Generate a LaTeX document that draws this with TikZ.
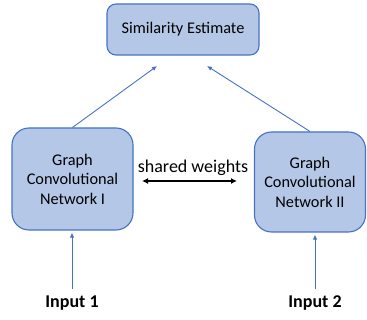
\documentclass[tikz,border=0pt]{standalone}
\usepackage{fontspec}
\setmainfont{Carlito}
\usetikzlibrary{arrows.meta}
\definecolor{boxfill}{HTML}{B4C7E7}
\definecolor{boxline}{HTML}{4472C4}
\begin{document}
\begin{tikzpicture}[x=1pt,y=-1pt,
  box/.style={draw=boxline, fill=boxfill, line width=1.1pt, rounded corners=#1, align=center, inner sep=0pt},
  blue arrow/.style={draw=boxline, line width=0.9pt, -{Latex[length=5pt,width=4.5pt]}},
  boxfont/.style={font=\fontsize{16.3}{19.5}\selectfont},
  bigfont/.style={font=\fontsize{18}{21}\selectfont}]
\useasboundingbox (0,0) rectangle (367,320);
\node[box=9pt, boxfont, minimum width=152pt, minimum height=51pt] (sim) at (183,29.5) {Similarity Estimate};
\node[box=17pt, boxfont, minimum width=121pt, minimum height=102pt] (gcn1) at (72.5,179) {Graph\\Convolutional\\Network I};
\node[box=17pt, boxfont, minimum width=111pt, minimum height=100pt] (gcn2) at (310,182) {Graph\\Convolutional\\Network II};
\node[bigfont, inner sep=0pt] (sw) at (193,168) {shared weights};
\node[bigfont, font=\fontsize{18}{21}\selectfont\bfseries, inner sep=0pt] (in1) at (72,303) {Input 1};
\node[bigfont, font=\fontsize{18}{21}\selectfont\bfseries, inner sep=0pt] (in2) at (315,303) {Input 2};
\coordinate (t1) at (157,66);
\coordinate (t2) at (207,66);
\coordinate (s1) at (142,181);
\coordinate (s2) at (237,181);
\draw[blue arrow] (gcn1.north) -- (t1);
\draw[blue arrow] (gcn2.north) -- (t2);
\draw[blue arrow] (in1.north) ++(0,-7) coordinate (i1) (i1) -- ([yshift=-2pt]gcn1.south -| i1);
\draw[blue arrow] (in2.north) ++(0,-6) coordinate (i2) (i2) -- ([yshift=-2pt]gcn2.south -| i2);
\draw[line width=1.8pt, {Latex[length=6pt,width=6pt]}-{Latex[length=6pt,width=6pt]}] (s1) -- (s2);
\end{tikzpicture}
\end{document}
